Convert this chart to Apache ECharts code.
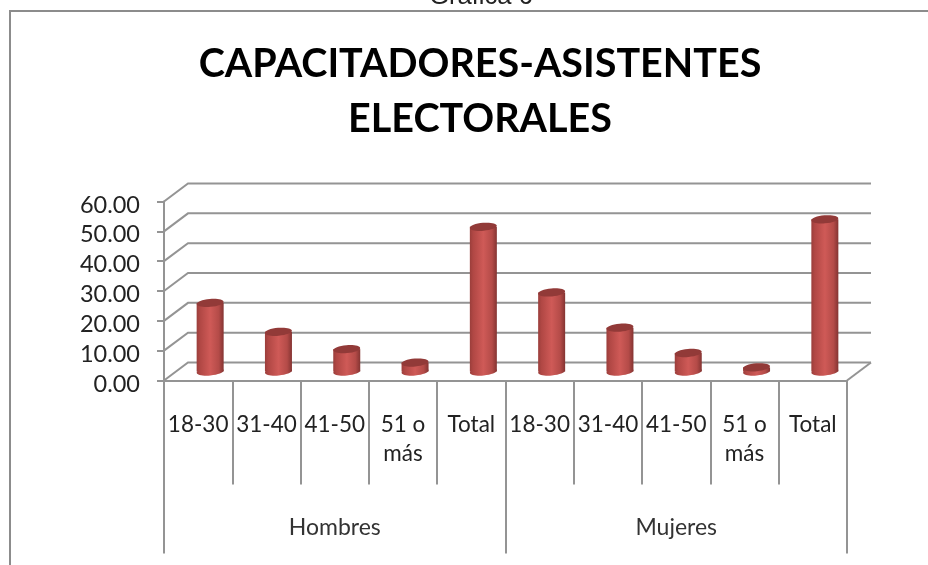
<!DOCTYPE html>
<html><head><meta charset="utf-8">
<style>html,body{margin:0;padding:0;background:#fff}#c{width:928px;height:565px}</style>
<script src="https://cdn.jsdelivr.net/npm/echarts@6/dist/echarts.min.js"></script>
</head><body><div id="c"></div>
<script>
const ageLabels = ['18-30','31-40','41-50','51 o\nmás','Total','18-30','31-40','41-50','51 o\nmás','Total'];
const groupLabels = ['Hombres','Mujeres'];
const shares = [23.0,13.3,7.5,3.0,48.5,26.5,14.7,6.2,1.4,51.0];
const yTicks = [0,10,20,30,40,50,60];
const axisGray = '#949494';
const depthX = 24, depthY = -18;
const chart = echarts.init(document.getElementById('c'));

function wallItem(params, api){
  const v = api.value(0), cs = params.coordSys;
  const y = api.coord([0, v])[1];
  const l = cs.x, r = cs.x + cs.width;
  const st = {stroke: axisGray, lineWidth: 2, fill: null};
  const children = [{type:'polyline', shape:{points:[[l,y],[l+depthX,y+depthY],[r+depthX,y+depthY]]}, style:st}];
  if (v === 0) children.push({type:'line', shape:{x1:r,y1:y,x2:r+depthX,y2:y+depthY}, style:st});
  return {type:'group', children};
}
function cylinderItem(params, api){
  const p = api.coord([api.value(0), api.value(1)]);
  const b = api.coord([api.value(0), 0]);
  const cx = p[0] + 12, w = 27, rx = w/2, ry = 4, tilt = 0.09;
  const topY = p[1] - 9, botY = b[1] - 9;
  const grad = new echarts.graphic.LinearGradient(0,0,1,0,[
    {offset:0,color:'#9a3e3b'},{offset:0.12,color:'#b04744'},{offset:0.5,color:'#cf5a57'},
    {offset:0.82,color:'#b44b48'},{offset:1,color:'#843432'}]);
  return {type:'group', children:[
    {type:'ellipse', shape:{cx,cy:botY,rx,ry}, rotation:tilt, originX:cx, originY:botY, style:{fill:grad}},
    {type:'rect', shape:{x:cx-rx,y:topY,width:w,height:botY-topY}, style:{fill:grad}},
    {type:'ellipse', shape:{cx,cy:topY,rx,ry}, rotation:tilt, originX:cx, originY:topY, style:{fill:'#923a38'}}
  ]};
}
chart.setOption({
  animation:false,
  backgroundColor:'#fff',
  textStyle:{fontFamily:'Lato'},
  title:[
    {text:'Gráfica 6', left:476, textAlign:'center', top:-21, textStyle:{fontFamily:'Liberation Sans',fontWeight:'normal',fontSize:25.5,color:'#222'}},
    {text:'CAPACITADORES-ASISTENTES\nELECTORALES', left:475, textAlign:'center', top:32,
     textStyle:{fontFamily:'Lato',fontWeight:'bold',fontSize:39.5,lineHeight:55,color:'#000'}}
  ],
  graphic:[
    {type:'polyline', silent:true, z:-1, shape:{points:[[10,565],[10,11],[928,11]]}, style:{stroke:'#8c8c8c',lineWidth:2,fill:null}}
  ],
  grid:{left:164, top:201.5, width:683, height:179},
  xAxis:[
    {type:'category', data:ageLabels, position:'bottom',
     axisLine:{onZero:false,lineStyle:{color:axisGray,width:2}},
     axisTick:{show:true,length:104,lineStyle:{color:axisGray,width:2}},
     axisLabel:{interval:0,margin:30,verticalAlign:'top',fontSize:22.5,lineHeight:29,color:'#222',fontFamily:'Lato'},
     splitLine:{show:false}},
    {type:'category', data:groupLabels, position:'bottom',
     axisLine:{show:false},
     axisTick:{show:true,length:173,lineStyle:{color:axisGray,width:2}},
     axisLabel:{interval:0,margin:136,verticalAlign:'top',fontSize:23,color:'#333',fontFamily:'Lato'},
     splitLine:{show:false}}
  ],
  yAxis:{type:'value',min:0,max:60,interval:10,
    axisLine:{show:true,lineStyle:{color:axisGray,width:2}},
    axisTick:{show:true,length:7,lineStyle:{color:axisGray,width:2}},
    axisLabel:{formatter:v=>v.toFixed(2),margin:24,fontSize:23.5,color:'#222',fontFamily:'Lato',verticalAlign:'top',lineHeight:7},
    splitLine:{show:false}},
  series:[
    {type:'custom', name:'Pared', silent:true, xAxisIndex:0, clip:false, z:1,
     encode:{y:0}, data:yTicks.map(v=>[v]), renderItem:wallItem},
    {type:'custom', name:'Porcentaje', xAxisIndex:0, clip:false, z:3,
     encode:{x:0,y:1}, data:shares.map((v,i)=>[i,v]), renderItem:cylinderItem}
  ]
});
</script></body></html>
